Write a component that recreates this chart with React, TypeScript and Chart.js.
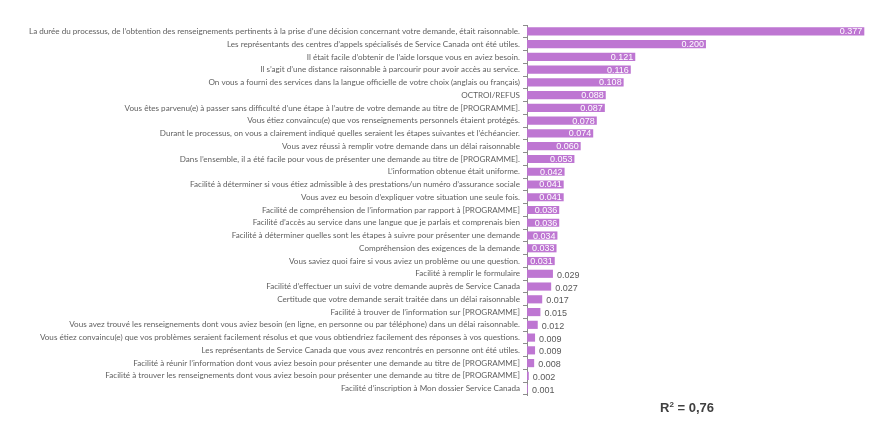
import React, { useEffect, useRef } from "react";
import { Chart, registerables } from "chart.js";

Chart.register(...registerables);

const categories: string[] = [
  "La durée du processus, de l’obtention des renseignements pertinents à la prise d’une décision concernant votre demande, était raisonnable.",
  "Les représentants des centres d’appels spécialisés de Service Canada ont été utiles.",
  "Il était facile d’obtenir de l’aide lorsque vous en aviez besoin.",
  "Il s’agit d’une distance raisonnable à parcourir pour avoir accès au service.",
  "On vous a fourni des services dans la langue officielle de votre choix (anglais ou français)",
  "OCTROI/REFUS",
  "Vous êtes parvenu(e) à passer sans difficulté d’une étape à l’autre de votre demande au titre de [PROGRAMME].",
  "Vous étiez convaincu(e) que vos renseignements personnels étaient protégés.",
  "Durant le processus, on vous a clairement indiqué quelles seraient les étapes suivantes et l’échéancier.",
  "Vous avez réussi à remplir votre demande dans un délai raisonnable",
  "Dans l’ensemble, il a été facile pour vous de présenter une demande au titre de [PROGRAMME].",
  "L’information obtenue était uniforme.",
  "Facilité à déterminer si vous étiez admissible à des prestations/un numéro d’assurance sociale",
  "Vous avez eu besoin d’expliquer votre situation une seule fois.",
  "Facilité de compréhension de l’information par rapport à [PROGRAMME]",
  "Facilité d’accès au service dans une langue que je parlais et comprenais bien",
  "Facilité à déterminer quelles sont les étapes à suivre pour présenter une demande",
  "Compréhension des exigences de la demande",
  "Vous saviez quoi faire si vous aviez un problème ou une question.",
  "Facilité à remplir le formulaire",
  "Facilité d’effectuer un suivi de votre demande auprès de Service Canada",
  "Certitude que votre demande serait traitée dans un délai raisonnable",
  "Facilité à trouver de l’information sur [PROGRAMME]",
  "Vous avez trouvé les renseignements dont vous aviez besoin (en ligne, en personne ou par téléphone) dans un délai raisonnable.",
  "Vous étiez convaincu(e) que vos problèmes seraient facilement résolus et que vous obtiendriez facilement des réponses à vos questions.",
  "Les représentants de Service Canada que vous avez rencontrés en personne ont été utiles.",
  "Facilité à réunir l’information dont vous aviez besoin pour présenter une demande au titre de [PROGRAMME]",
  "Facilité à trouver les renseignements dont vous aviez besoin pour présenter une demande au titre de [PROGRAMME]",
  "Facilité d’inscription à Mon dossier Service Canada",
];

const values: number[] = [
  0.377, 0.2, 0.121, 0.116, 0.108, 0.088, 0.087, 0.078, 0.074, 0.06, 0.053,
  0.042, 0.041, 0.041, 0.036, 0.036, 0.034, 0.033, 0.031, 0.029, 0.027, 0.017,
  0.015, 0.012, 0.009, 0.009, 0.008, 0.002, 0.001,
];

const rSquaredLabel = "0,76";

const valueLabelPlugin = {
  id: "valueLabels",
  afterDatasetsDraw(chart: any) {
    const ctx = chart.ctx;
    const meta = chart.getDatasetMeta(0);
    ctx.save();
    ctx.font = "9px 'Liberation Sans', Arial, sans-serif";
    ctx.textBaseline = "middle";
    meta.data.forEach((bar: any, i: number) => {
      const v = values[i];
      const txt = v.toFixed(3);
      if (v >= 0.03) {
        ctx.fillStyle = "#ffffff";
        ctx.textAlign = "right";
        ctx.fillText(txt, bar.x - 2, bar.y + 0.5);
      } else {
        ctx.fillStyle = "#595959";
        ctx.textAlign = "left";
        ctx.fillText(txt, bar.x + 4, bar.y + 1.5);
      }
    });
    ctx.restore();
  },
};

export default function App() {
  const canvasRef = useRef<HTMLCanvasElement | null>(null);

  useEffect(() => {
    if (!canvasRef.current) return;
    const chart = new Chart(canvasRef.current, {
      type: "bar",
      data: {
        labels: categories,
        datasets: [
          {
            data: values,
            backgroundColor: "#BE76D2",
            borderWidth: 0,
            barPercentage: 0.64,
            categoryPercentage: 1,
          },
        ],
      },
      options: {
        indexAxis: "y",
        animation: false,
        responsive: false,
        maintainAspectRatio: false,
        layout: { padding: { top: 25, bottom: 28, left: 0, right: 5 } },
        plugins: {
          legend: { display: false },
          tooltip: { enabled: false },
        },
        scales: {
          x: {
            display: false,
            min: 0,
            max: 0.38,
          },
          y: {
            afterFit: (scale: any) => {
              scale.width = 527;
            },
            border: { display: true, color: "#8c8c8c", width: 1 },
            grid: {
              display: true,
              drawOnChartArea: false,
              drawTicks: true,
              tickLength: 4,
              color: "#8c8c8c",
              offset: true,
            },
            ticks: {
              autoSkip: false,
              padding: 3,
              color: "#5f5f5f",
              font: { family: "Lato, 'Noto Sans', sans-serif", size: 8.1 },
            },
          },
        },
      },
      plugins: [valueLabelPlugin],
    });
    return () => chart.destroy();
  }, []);

  return (
    <div
      style={{
        position: "fixed",
        left: 0,
        top: 0,
        width: 872,
        height: 423,
        background: "#ffffff",
      }}
    >
      <canvas ref={canvasRef} width={872} height={423} style={{ display: "block" }} />
      <div
        style={{
          position: "absolute",
          left: 660,
          top: 400,
          fontFamily: "'Liberation Sans', Arial, sans-serif",
          fontWeight: "bold",
          fontSize: 13,
          color: "#404040",
          whiteSpace: "nowrap",
        }}
      >
        R<sup style={{ fontSize: 8, verticalAlign: "top", lineHeight: "10px" }}>2</sup> = {rSquaredLabel}
      </div>
    </div>
  );
}
